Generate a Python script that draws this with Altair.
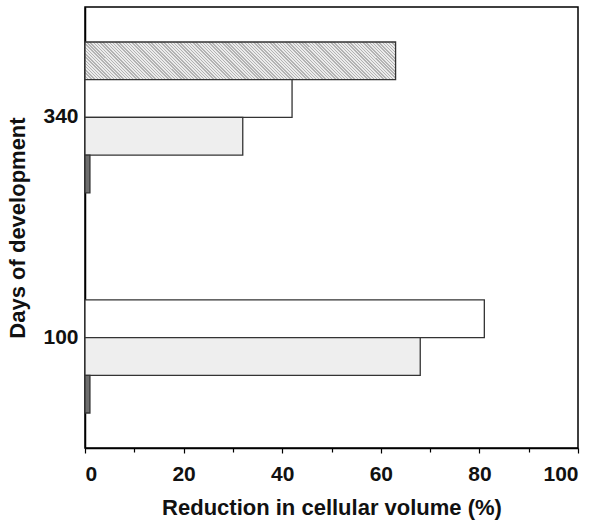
import altair as alt
import pandas as pd

# ---- data ----
days = ["340", "340", "340", "340", "100", "100", "100"]
series = ["Hatched", "Open", "Dotted", "Solid", "Open", "Dotted", "Solid"]
values = [63, 42, 32, 1, 81, 68, 1]
day_order = ["340", "100"]
series_order = ["Hatched", "Open", "Dotted", "Solid"]
x_tick_values = [0, 10, 20, 30, 40, 50, 60, 70, 80, 90, 100]

df = pd.DataFrame({"day": days, "series": series, "value": values})

FONT = "Liberation Sans"

# diagonal hatching built as a striped linear gradient
N = 110
stops = []
for i in range(N):
    a = i / N
    b = (i + 0.45) / N
    c = (i + 1) / N
    stops += [
        alt.GradientStop(color="#b3b3b3", offset=a),
        alt.GradientStop(color="#b3b3b3", offset=b),
        alt.GradientStop(color="#ebebeb", offset=b),
        alt.GradientStop(color="#ebebeb", offset=c),
    ]
hatch = alt.LinearGradient(gradient="linear", stops=stops,
                           x1=0, y1=1, x2=1.12, y2=0.864)

y_enc = alt.Y(
    "day:N", sort=day_order,
    scale=alt.Scale(paddingInner=0.315, paddingOuter=0.159),
    axis=alt.Axis(title="Days of development", ticks=False, labelPadding=7,
                  titlePadding=13),
)
yoff_enc = alt.YOffset(
    "series:N", sort=series_order,
    scale=alt.Scale(domain=series_order, paddingInner=0, paddingOuter=0),
)
x_enc = alt.X(
    "value:Q",
    scale=alt.Scale(domain=[0, 100], nice=False, zero=True),
    axis=alt.Axis(
        title="Reduction in cellular volume (%)",
        values=x_tick_values,
        labelExpr="datum.value % 20 === 0 ? datum.label : ''",
        labelOverlap=False,
        tickSize={"condition": {"test": "datum.value % 20 === 0", "value": 5}, "value": 4},
        labelPadding=10,
        titlePadding=13,
        grid=False,
    ),
)

base = alt.Chart(df).encode(x=x_enc, y=y_enc, yOffset=yoff_enc)

hatched = base.transform_filter("datum.series == 'Hatched'").mark_bar(
    fill=hatch, stroke="#333333", strokeWidth=1.3
)
solid = base.transform_filter("datum.series != 'Hatched'").mark_bar(
    stroke="#333333", strokeWidth=1.3
).encode(
    color=alt.Color(
        "series:N",
        scale=alt.Scale(domain=["Open", "Dotted", "Solid"],
                        range=["#ffffff", "#eeeeee", "#6e6e6e"]),
        legend=None,
    )
)

chart = (
    alt.layer(hatched, solid)
    .properties(
        width=493, height=441,
        autosize=alt.AutoSizeParams(type="none"),
        padding={"left": 85, "top": 7, "right": 20, "bottom": 73},
    )
    .configure_view(stroke="black", strokeWidth=1.5)
    .configure_axis(
        domainColor="black", domainWidth=1.5, tickColor="black", tickWidth=1.2,
        labelFont=FONT, labelFontSize=21, labelFontWeight="bold", labelColor="#111111",
        titleFont=FONT, titleFontSize=22, titleFontWeight="bold", titleColor="#111111",
        grid=False,
    )
)

chart.save("out.html", embed_options={"renderer": "svg", "actions": False})
